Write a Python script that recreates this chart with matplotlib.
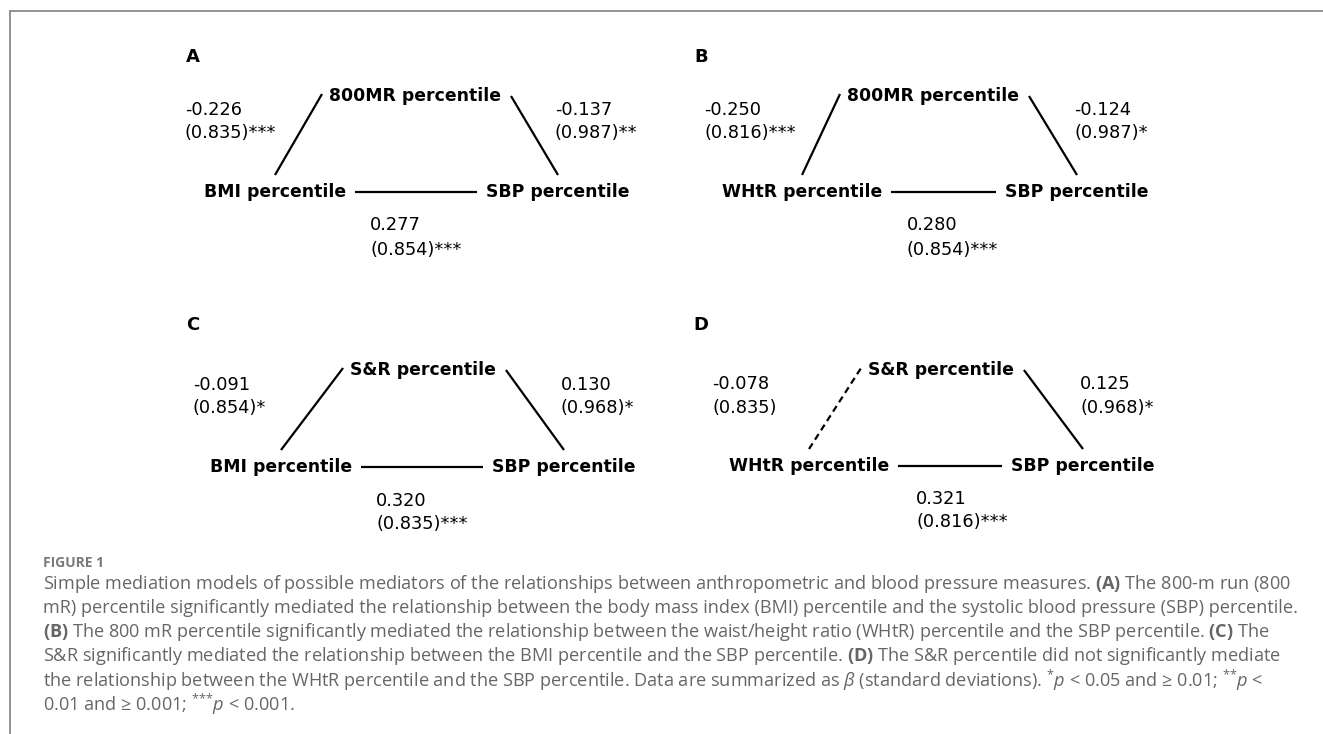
import matplotlib
matplotlib.use('Agg')
import matplotlib.pyplot as plt

plt.rcParams['mathtext.fontset'] = 'custom'
plt.rcParams['mathtext.rm'] = 'Open Sans'
plt.rcParams['mathtext.it'] = 'Open Sans:italic'
plt.rcParams['mathtext.bf'] = 'Open Sans:bold'

panels = ['A', 'B', 'C', 'D']
mediators = ['800MR percentile', '800MR percentile', 'S&R percentile', 'S&R percentile']
predictors = ['BMI percentile', 'WHtR percentile', 'BMI percentile', 'WHtR percentile']
outcome = 'SBP percentile'

# a: predictor -> mediator, b: mediator -> outcome, c: predictor -> outcome
a_beta = [-0.226, -0.250, -0.091, -0.078]
a_sd = [0.835, 0.816, 0.854, 0.835]
a_sig = ['***', '***', '*', '']
b_beta = [-0.137, -0.124, 0.130, 0.125]
b_sd = [0.987, 0.987, 0.968, 0.968]
b_sig = ['**', '*', '*', '*']
c_beta = [0.277, 0.280, 0.320, 0.321]
c_sd = [0.854, 0.854, 0.835, 0.816]
c_sig = ['***', '***', '***', '***']

caption_title = 'FIGURE 1'
caption_lines = [
    'Simple mediation models of possible mediators of the relationships between anthropometric and blood pressure measures. '
    r'$\mathbf{(A)}$ The 800-m run (800',
    'mR) percentile significantly mediated the relationship between the body mass index (BMI) percentile and the systolic blood pressure (SBP) percentile.',
    r'$\mathbf{(B)}$ The 800 mR percentile significantly mediated the relationship between the waist/height ratio (WHtR) percentile and the SBP percentile. '
    r'$\mathbf{(C)}$ The',
    r'S&R significantly mediated the relationship between the BMI percentile and the SBP percentile. $\mathbf{(D)}$ The S&R percentile did not significantly mediate',
    r'the relationship between the WHtR percentile and the SBP percentile. Data are summarized as $\beta$ (standard deviations). '
    r'${}^{{*}}p$ < 0.05 and ≥ 0.01; ${}^{{*}{*}}p$ <',
    r'0.01 and ≥ 0.001; ${}^{{*}{*}{*}}p$ < 0.001.',
]

# pixel layout of each panel (x right, y down)
layout = {
    'A': dict(letter=(193, 57), med=(415, 96), pred=(275, 192), out=(558, 192),
              lab_x=(185, 555, 370), lab_y=(110, 133), bot_y=(225, 250)),
    'B': dict(letter=(701, 57), med=(933, 96), pred=(802, 192), out=(1077, 192),
              lab_x=(704, 1074, 907), lab_y=(110, 133), bot_y=(225, 250)),
    'C': dict(letter=(193, 325), med=(423, 370), pred=(281, 467), out=(564, 467),
              lab_x=(193, 561, 376), lab_y=(385, 408), bot_y=(501, 524)),
    'D': dict(letter=(701, 325), med=(941, 370), pred=(809, 466), out=(1083, 466),
              lab_x=(712, 1080, 916), lab_y=(384, 408), bot_y=(499, 522)),
}

W, H = 1323, 734
fig = plt.figure(figsize=(W / 100, H / 100), dpi=100)
ax = fig.add_axes([0, 0, 1, 1])
ax.set_xlim(0, W)
ax.set_ylim(H, 0)
ax.axis('off')

node_fs = 12.4
num_fs = 12.8
diag_font = 'DejaVu Sans'
cap_font = ['Open Sans', 'DejaVu Sans']

nodes = []
for i, p in enumerate(panels):
    L = layout[p]
    ax.text(*L['letter'], p, ha='center', va='center', fontsize=13, fontweight='bold', family=diag_font)
    t_med = ax.text(*L['med'], mediators[i], ha='center', va='center', fontsize=node_fs, fontweight='bold', family=diag_font)
    t_pred = ax.text(*L['pred'], predictors[i], ha='center', va='center', fontsize=node_fs, fontweight='bold', family=diag_font)
    t_out = ax.text(*L['out'], outcome, ha='center', va='center', fontsize=node_fs, fontweight='bold', family=diag_font)
    nodes.append((t_med, t_pred, t_out))

    xl, xr, xb = L['lab_x']
    y1, y2 = L['lab_y']
    ax.text(xl, y1, f'{a_beta[i]:.3f}', va='center', fontsize=num_fs, family=diag_font)
    ax.text(xl, y2, f'({a_sd[i]:.3f}){a_sig[i]}', va='center', fontsize=num_fs, family=diag_font)
    ax.text(xr, y1, f'{b_beta[i]:.3f}', va='center', fontsize=num_fs, family=diag_font)
    ax.text(xr, y2, f'({b_sd[i]:.3f}){b_sig[i]}', va='center', fontsize=num_fs, family=diag_font)
    b1, b2 = L['bot_y']
    ax.text(xb, b1, f'{c_beta[i]:.3f}', va='center', fontsize=num_fs, family=diag_font)
    ax.text(xb, b2, f'({c_sd[i]:.3f}){c_sig[i]}', va='center', fontsize=num_fs, family=diag_font)

# caption
ax.text(43, 563, caption_title, va='center', fontsize=10, fontweight='bold',
        color='#7a7a7a', family=cap_font)
cap_y = [584, 608, 632, 656, 680, 704]
cap_fs = 12
cap_texts = [ax.text(43, y, line, va='center', fontsize=cap_fs, color='#666666', family=cap_font)
             for y, line in zip(cap_y, caption_lines)]

fig.canvas.draw()
renderer = fig.canvas.get_renderer()
inv = ax.transData.inverted()


def xspan(t):
    bb = t.get_window_extent(renderer)
    x0 = inv.transform((bb.x0, bb.y0))[0]
    x1 = inv.transform((bb.x1, bb.y1))[0]
    return x0, x1


# first caption line runs to x=1288 in the original
c0, c1 = xspan(cap_texts[0])
for t in cap_texts:
    t.set_fontsize(cap_fs * (1288 - 43) / (c1 - c0))

# connect nodes using measured text extents
for i, p in enumerate(panels):
    L = layout[p]
    t_med, t_pred, t_out = nodes[i]
    mx0, mx1 = xspan(t_med)
    px0, px1 = xspan(t_pred)
    ox0, ox1 = xspan(t_out)
    px, py = L['pred']
    ox, oy = L['out']
    my = L['med'][1]
    style_a = '-' if a_sig[i] else (0, (3, 2))
    ax.plot([px, mx0 - 7], [py - 17, my - 2], color='black', lw=1.6, ls=style_a, solid_capstyle='butt')
    ax.plot([mx1 + 10, ox], [my, oy - 17], color='black', lw=1.6, solid_capstyle='butt')
    ax.plot([px1 + 9, ox0 - 9], [py, oy], color='black', lw=1.6, solid_capstyle='butt')

# frame
ax.plot([10, W], [11, 11], color='#8a8a8a', lw=1.3, clip_on=False)
ax.plot([10, 10], [11, H], color='#8a8a8a', lw=1.3, clip_on=False)

fig.savefig('out.png', dpi=100)
